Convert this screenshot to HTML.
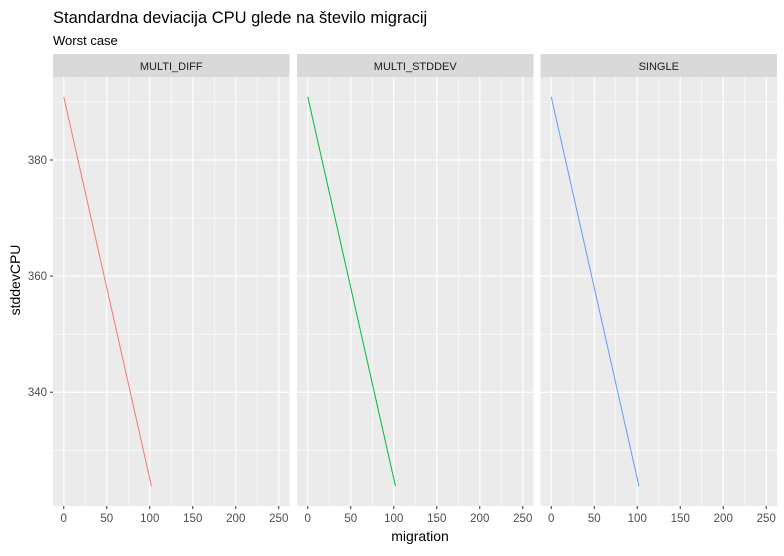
<!DOCTYPE html>
<html><head><meta charset="utf-8"><style>
body{margin:0;background:#fff;}
svg text{font-family:"Liberation Sans",Arial,sans-serif;}
</style></head><body>
<svg id="chart" width="784" height="551" xmlns="http://www.w3.org/2000/svg">
<text x="53" y="23" font-size="16.5" fill="#000">Standardna deviacija CPU glede na število migracij</text>
<text x="53" y="45" font-size="13" fill="#000">Worst case</text>
<text x="420" y="541" font-size="14" text-anchor="middle" fill="#000">migration</text>
<text transform="translate(20,280) rotate(-90)" font-size="14" text-anchor="middle" fill="#000">stddevCPU</text>
<g id="plots"></g>
</svg>
<script>
const panels = ["MULTI_DIFF","MULTI_STDDEV","SINGLE"];
const colors = ["#F8766D","#00BA38","#619CFF"];
const migrationValues = [0, 102];
const stddevValues = [
  [390.9, 323.8],
  [390.9, 323.8],
  [390.9, 323.8]
];
const xTicks = [0,50,100,150,200,250];
const yTicks = [340,360,380];

const NS="http://www.w3.org/2000/svg";
const g=document.getElementById('plots');
const panelLefts=[53,297,540.5], panelW=236.5, pTop=77, pBottom=506;
const xMin=-12.5, xMax=262.5, yMin=320.4, yMax=394.3;
function mk(t,a,parent){const e=document.createElementNS(NS,t);for(const k in a)e.setAttribute(k,a[k]);(parent||g).appendChild(e);return e;}
function sy(v){return pBottom-(v-yMin)/(yMax-yMin)*(pBottom-pTop);}
panels.forEach((p,i)=>{
  const L=panelLefts[i];
  const sx=v=>L+(v-xMin)/(xMax-xMin)*panelW;
  const bg=mk('rect',{x:L,y:pTop,width:panelW,height:pBottom-pTop,fill:'#EBEBEB'});
  
  
  for(let v=330;v<=390;v+=20) mk('line',{x1:L,x2:L+panelW,y1:sy(v),y2:sy(v),stroke:'#fff','stroke-width':0.6});
  for(let v=25;v<=262;v+=50) mk('line',{y1:pTop,y2:pBottom,x1:sx(v),x2:sx(v),stroke:'#fff','stroke-width':0.6});
  yTicks.forEach(v=>mk('line',{x1:L,x2:L+panelW,y1:sy(v),y2:sy(v),stroke:'#fff','stroke-width':1.2}));
  xTicks.forEach(v=>{
    mk('line',{y1:pTop,y2:pBottom,x1:sx(v),x2:sx(v),stroke:'#fff','stroke-width':1.2});
    mk('line',{y1:pBottom,y2:pBottom+3,x1:sx(v),x2:sx(v),stroke:'#333','stroke-width':1});
    const t=mk('text',{x:sx(v),y:pBottom+16,'font-size':11.5,'text-anchor':'middle',fill:'#4D4D4D'});
    t.textContent=v;
    
    
  });
  const strip=mk('rect',{x:L,y:54,width:panelW,height:23,fill:'#D9D9D9'});
  
  
  const st=mk('text',{x:L+panelW/2,y:70,'font-size':11,'text-anchor':'middle',fill:'#1A1A1A'});
  st.textContent=p;
  
  
  const pts=migrationValues.map((m,j)=>sx(m)+','+sy(stddevValues[i][j])).join(' ');
  const line=mk('polyline',{points:pts,fill:'none',stroke:colors[i],'stroke-width':1});
  
  
});
yTicks.forEach(v=>{
  mk('line',{x1:50,x2:53,y1:sy(v),y2:sy(v),stroke:'#333','stroke-width':1});
  const t=mk('text',{x:47,y:sy(v)+4,'font-size':11.5,'text-anchor':'end',fill:'#4D4D4D'});
  t.textContent=v;
  
  
});
</script>
</body></html>
